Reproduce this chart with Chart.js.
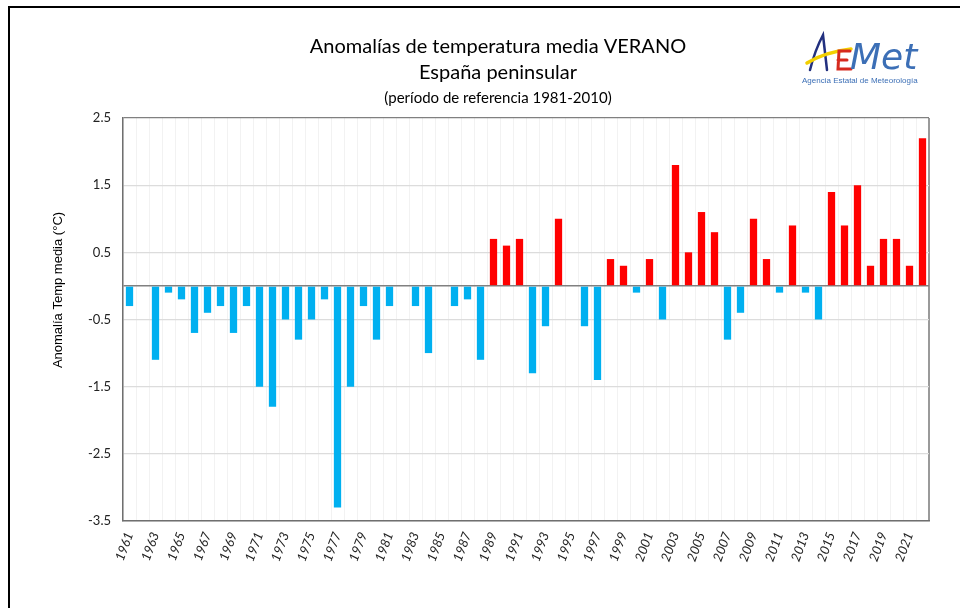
<!DOCTYPE html>
<html>
<head>
<meta charset="utf-8">
<script src="https://cdn.jsdelivr.net/npm/chart.js@4.4.0/dist/chart.umd.min.js"></script>
<style>
  html, body { margin: 0; padding: 0; background: #fff; }
  #wrap { position: relative; width: 960px; height: 608px; }
</style>
</head>
<body>
<div id="wrap"><canvas id="myChart" width="960" height="608"></canvas></div>
<script>
'use strict';

var years = ['1961', '1962', '1963', '1964', '1965', '1966', '1967', '1968', '1969', '1970',
    '1971', '1972', '1973', '1974', '1975', '1976', '1977', '1978', '1979', '1980',
    '1981', '1982', '1983', '1984', '1985', '1986', '1987', '1988', '1989', '1990',
    '1991', '1992', '1993', '1994', '1995', '1996', '1997', '1998', '1999', '2000',
    '2001', '2002', '2003', '2004', '2005', '2006', '2007', '2008', '2009', '2010',
    '2011', '2012', '2013', '2014', '2015', '2016', '2017', '2018', '2019', '2020',
    '2021', '2022'];

var anomalies = [-0.3, 0, -1.1, -0.1, -0.2, -0.7, -0.4, -0.3, -0.7, -0.3,
    -1.5, -1.8, -0.5, -0.8, -0.5, -0.2, -3.3, -1.5, -0.3, -0.8,
    -0.3, 0, -0.3, -1.0, 0, -0.3, -0.2, -1.1, 0.7, 0.6,
    0.7, -1.3, -0.6, 1.0, 0, -0.6, -1.4, 0.4, 0.3, -0.1,
    0.4, -0.5, 1.8, 0.5, 1.1, 0.8, -0.8, -0.4, 1.0, 0.4,
    -0.1, 0.9, -0.1, -0.5, 1.4, 0.9, 1.5, 0.3, 0.7, 0.7,
    0.3, 2.2];

var yTicks = [-3.5, -2.5, -1.5, -0.5, 0, 0.5, 1.5, 2.5];

var titleLines = ['Anomalías de temperatura media VERANO', 'España peninsular'];
var subtitleText = '(período de referencia 1981-2010)';
var yAxisTitle = 'Anomalía Temp media (°C)';

var decorations = {
    id: 'decorations',
    beforeDraw: function (chart) {
        var ctx = chart.ctx;
        ctx.save();
        // frame of the picture
        ctx.strokeStyle = '#000';
        ctx.lineWidth = 2;
        ctx.beginPath();
        ctx.moveTo(9, 608);
        ctx.lineTo(9, 7);
        ctx.lineTo(960, 7);
        ctx.stroke();
        ctx.restore();
    },
    afterDraw: function (chart) {
        var ctx = chart.ctx;
        ctx.save();
        // y axis title
        ctx.translate(58.5, 290);
        ctx.rotate(-Math.PI / 2);
        ctx.font = '13px "Liberation Sans"';
        ctx.fillStyle = '#000';
        ctx.textAlign = 'center';
        ctx.textBaseline = 'middle';
        ctx.fillText(yAxisTitle, 0, 0);
        ctx.restore();

        // AEMET logo
        ctx.save();
        ctx.lineCap = 'round';
        ctx.strokeStyle = '#22307f';
        ctx.lineWidth = 2.5;
        ctx.beginPath();
        ctx.moveTo(810, 70);
        ctx.quadraticCurveTo(815, 50, 823, 35);
        ctx.lineTo(827, 70);
        ctx.stroke();
        ctx.strokeStyle = '#f2cf00';
        ctx.lineWidth = 3.5;
        ctx.beginPath();
        ctx.moveTo(807, 63);
        ctx.quadraticCurveTo(825, 52, 851, 49);
        ctx.stroke();
        ctx.strokeStyle = '#d62a1e';
        ctx.lineWidth = 3;
        ctx.beginPath();
        ctx.moveTo(850, 51);
        ctx.lineTo(839, 51);
        ctx.lineTo(838, 69);
        ctx.lineTo(851, 69);
        ctx.moveTo(838, 60);
        ctx.lineTo(847, 60);
        ctx.stroke();
        ctx.fillStyle = '#3c6fb6';
        ctx.font = 'italic 36px "DejaVu Sans"';
        ctx.textAlign = 'left';
        ctx.textBaseline = 'alphabetic';
        ctx.fillText('Met', 850, 69);
        ctx.font = '8px "Liberation Sans"';
        ctx.fillText('Agencia Estatal de Meteorología', 802, 83);
        ctx.restore();
    }
};

new Chart(document.getElementById('myChart').getContext('2d'), {
    type: 'bar',
    data: {
        labels: years,
        datasets: [{
            data: anomalies,
            backgroundColor: anomalies.map(function (v) {
                return v >= 0 ? '#FF0000' : '#00B0F0';
            }),
            borderWidth: 0,
            barPercentage: 0.56,
            categoryPercentage: 1.0
        }]
    },
    options: {
        responsive: false,
        animation: false,
        layout: {
            padding: { top: 20, left: 67, right: 31, bottom: 0 }
        },
        plugins: {
            legend: { display: false },
            tooltip: { enabled: false },
            title: {
                display: true,
                text: titleLines,
                color: '#000',
                font: { family: 'Lato', size: 20, weight: 'normal', lineHeight: 1.3 },
                padding: { top: 14, bottom: 3 }
            },
            subtitle: {
                display: true,
                text: subtitleText,
                color: '#000',
                font: { family: 'Lato', size: 15, weight: 'normal', lineHeight: 1.2 },
                padding: { top: 0, bottom: 11 }
            }
        },
        scales: {
            x: {
                offset: true,
                grid: {
                    offset: true,
                    drawTicks: false,
                    color: function (ctx) {
                        return ctx.index === undefined ? '#9a9a9a' : '#f2f2f2';
                    },
                    lineWidth: function (ctx) {
                        return ctx.index === undefined ? 2 : 1;
                    }
                },
                border: { display: true, color: '#6f6f6f', width: 1.5 },
                ticks: {
                    autoSkip: false,
                    maxRotation: 70,
                    minRotation: 70,
                    padding: 9,
                    color: '#222',
                    font: { family: 'Lato', size: 13, style: 'italic' },
                    callback: function (value, index) {
                        return index % 2 === 0 ? years[index] : '';
                    }
                },
                afterFit: function (scale) {
                    scale.height = 87;
                }
            },
            y: {
                min: -3.5,
                max: 2.5,
                afterBuildTicks: function (scale) {
                    scale.ticks = yTicks.map(function (v) { return { value: v }; });
                },
                grid: {
                    drawTicks: false,
                    color: function (ctx) {
                        var v = ctx.tick ? ctx.tick.value : null;
                        if (v === 0 || v === 2.5) {
                            return '#808080';
                        }
                        return '#dcdcdc';
                    },
                    lineWidth: function (ctx) {
                        var v = ctx.tick ? ctx.tick.value : null;
                        return v === 0 ? 1.5 : 1.2;
                    }
                },
                border: { display: true, color: '#6f6f6f', width: 1.5 },
                ticks: {
                    padding: 12,
                    color: '#222',
                    font: { family: 'Lato', size: 13 },
                    callback: function (value) {
                        return value === 0 ? '' : value.toFixed(1);
                    }
                },
                afterFit: function (scale) {
                    scale.width = 56;
                }
            }
        }
    },
    plugins: [decorations]
});
</script>
</body>
</html>
